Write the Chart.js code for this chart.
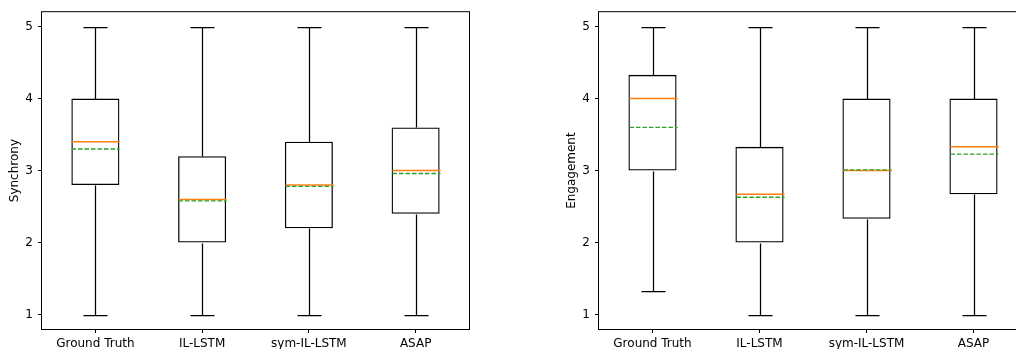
<!DOCTYPE html>
<html>
<head>
<meta charset="utf-8">
<title>Synchrony / Engagement box plots</title>
<script src="https://cdn.jsdelivr.net/npm/chart.js@4"></script>
<style>
  html, body { margin: 0; padding: 0; background: #fff; overflow: hidden; width: 1016px; height: 349px; }
  .panel { position: absolute; top: 0; height: 349px; }
  #left { left: 0; width: 480px; }
  #right { left: 557px; width: 481px; }
</style>
</head>
<body>
<div class="panel" id="left"><canvas id="syncChart"></canvas></div>
<div class="panel" id="right"><canvas id="engChart"></canvas></div>
<script>
const methods = ["Ground Truth", "IL-LSTM", "sym-IL-LSTM", "ASAP"];
const yTicks = [1, 2, 3, 4, 5];

// Synchrony (left)
const syncLow = [1, 1, 1, 1];
const syncQ1 = [2.8, 2.0, 2.2, 2.4];
const syncMedian = [3.4, 2.6, 2.8, 3.0];
const syncMean = [3.3, 2.58, 2.78, 2.96];
const syncQ3 = [4.0, 3.2, 3.4, 3.6];
const syncHigh = [5, 5, 5, 5];

// Engagement (right)
const engLow = [1.33, 1, 1, 1];
const engQ1 = [3.0, 2.0, 2.33, 2.67];
const engMedian = [4.0, 2.67, 3.0, 3.33];
const engMean = [3.6, 2.63, 3.01, 3.23];
const engQ3 = [4.33, 3.33, 4.0, 4.0];
const engHigh = [5, 5, 5, 5];

Chart.defaults.font.family = "'DejaVu Sans', sans-serif";
Chart.defaults.font.size = 12;
Chart.defaults.color = "#000";

// whiskers, caps, medians, means and the axes frame
const boxExtras = {
  id: "boxExtras",
  afterDatasetsDraw(chart, args, opts) {
    const ctx = chart.ctx;
    const xs = chart.scales.x, ys = chart.scales.y;
    const step = xs.getPixelForValue(1) - xs.getPixelForValue(0);
    const half = step * 0.225, cap = step * 0.1125;
    const boxes = chart.data.datasets[0].data;
    const py = v => Math.round(ys.getPixelForValue(v)) + 0.5;
    ctx.save();
    boxes.forEach((b, i) => {
      const cx = Math.round(xs.getPixelForValue(i)) + 0.5;
      ctx.strokeStyle = "#000";
      ctx.lineWidth = 1.25;
      ctx.setLineDash([]);
      ctx.beginPath();
      ctx.moveTo(cx, py(b[0])); ctx.lineTo(cx, py(opts.low[i]));
      ctx.moveTo(cx - cap, py(opts.low[i])); ctx.lineTo(cx + cap, py(opts.low[i]));
      ctx.moveTo(cx, py(b[1])); ctx.lineTo(cx, py(opts.high[i]));
      ctx.moveTo(cx - cap, py(opts.high[i])); ctx.lineTo(cx + cap, py(opts.high[i]));
      ctx.stroke();

      ctx.strokeStyle = "#ff7f0e";
      ctx.lineWidth = 1.5;
      ctx.beginPath();
      ctx.moveTo(cx - half, ys.getPixelForValue(opts.median[i]));
      ctx.lineTo(cx + half, ys.getPixelForValue(opts.median[i]));
      ctx.stroke();

      ctx.strokeStyle = "#2ca02c";
      ctx.lineWidth = 1.3;
      ctx.setLineDash([4.5, 2]);
      ctx.beginPath();
      ctx.moveTo(cx - half, ys.getPixelForValue(opts.mean[i]));
      ctx.lineTo(cx + half, ys.getPixelForValue(opts.mean[i]));
      ctx.stroke();
    });
    const a = chart.chartArea;
    ctx.setLineDash([]);
    ctx.strokeStyle = "#000";
    ctx.lineWidth = 1;
    ctx.strokeRect(a.left - 0.5, a.top - 0.5, a.right - a.left + 1, a.bottom - a.top + 1);
    ctx.restore();
  }
};

function makeBoxChart(canvasId, yLabel, low, q1, median, mean, q3, high) {
  return new Chart(document.getElementById(canvasId), {
    type: "bar",
    data: {
      labels: methods,
      datasets: [{
        data: methods.map((_, i) => [q1[i], q3[i]]),
        backgroundColor: "rgba(0,0,0,0)",
        borderColor: "#000",
        borderWidth: 1.3,
        borderSkipped: false,
        barPercentage: 0.45,
        categoryPercentage: 1
      }]
    },
    options: {
      responsive: true,
      maintainAspectRatio: false,
      animation: false,
      events: [],
      layout: { padding: { top: 10, right: 11, left: 0, bottom: 0 } },
      plugins: {
        legend: { display: false },
        tooltip: { enabled: false },
        boxExtras: { low, median, mean, high }
      },
      scales: {
        x: {
          offset: true,
          grid: { offset: false, drawOnChartArea: false, drawTicks: true, tickLength: 4, color: "#000" },
          border: { display: false },
          ticks: { padding: 4, maxRotation: 0 },
          afterFit: s => { s.height = 20; }
        },
        y: {
          min: 0.8,
          max: 5.2,
          afterBuildTicks: s => { s.ticks = yTicks.map(v => ({ value: v })); },
          grid: { drawOnChartArea: false, drawTicks: true, tickLength: 4, color: "#000" },
          border: { display: false },
          ticks: { padding: 5 },
          title: { display: true, text: yLabel, padding: { top: 8, bottom: 0 } },
          afterFit: s => { s.width = 42; }
        }
      }
    },
    plugins: [boxExtras]
  });
}

makeBoxChart("syncChart", "Synchrony", syncLow, syncQ1, syncMedian, syncMean, syncQ3, syncHigh);
makeBoxChart("engChart", "Engagement", engLow, engQ1, engMedian, engMean, engQ3, engHigh);
</script>
</body>
</html>
